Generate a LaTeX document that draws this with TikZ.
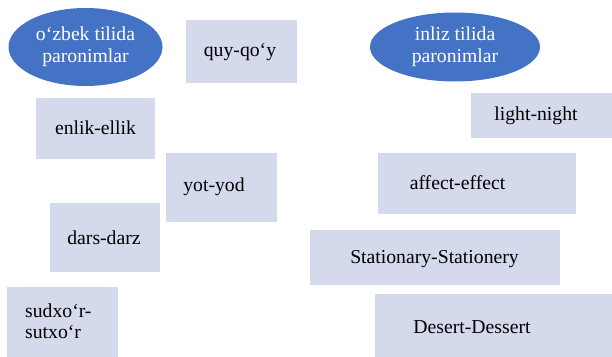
\documentclass[tikz,border=0pt]{standalone}
\usepackage{fontspec}
\setmainfont{Liberation Serif}
\usetikzlibrary{shapes.geometric}
\definecolor{ovalblue}{HTML}{4472C4}
\definecolor{boxfill}{HTML}{D4D9EC}
\begin{document}
\begin{tikzpicture}[x=1pt,y=-1pt,
  pbox/.style={fill=boxfill, draw=none, inner sep=0pt, anchor=north west},
  oval/.style={ellipse, fill=ovalblue, draw=none, text=white, align=center, inner sep=0pt,
    font=\fontsize{19.7}{22}\selectfont},
  word/.style={font=\fontsize{19.7}{21}\selectfont, inner sep=0pt, anchor=base}]
\useasboundingbox (0,0) rectangle (612,356);
\clip (0,0) rectangle (612,356);
% ovals
\node[oval, minimum width=154pt, minimum height=78pt] (e1) at (85.5,47) {o‘zbek tilida\\paronimlar};
\node[oval, minimum width=170pt, minimum height=69pt] (e2) at (455,47) {inliz tilida\\paronimlar};
% uzbek boxes
\node[pbox, minimum width=111pt, minimum height=63pt] (b1) at (186,20) {};
\node[word] (t1) at (240,56.5) {quy-qo‘y};
\node[pbox, minimum width=119pt, minimum height=61pt] (b2) at (36,98) {};
\node[word] (t2) at (95.5,134) {enlik-ellik};
\node[pbox, minimum width=111pt, minimum height=69pt] (b3) at (166,153) {};
\node[word] (t3) at (214,191.5) {yot-yod};
\node[pbox, minimum width=110pt, minimum height=69pt] (b4) at (50,203) {};
\node[word] (t4) at (104,244) {dars-darz};
\node[pbox, minimum width=111pt, minimum height=75pt] (b5) at (7,287) {};
\node[font=\fontsize{19.7}{21}\selectfont, inner sep=0pt, anchor=base west, align=left] (t5) at (25,338) {sudxo‘r-\\sutxo‘r};
% english boxes
\node[pbox, minimum width=150pt, minimum height=45pt] (c1) at (471,93) {};
\node[word] (s1) at (536,120) {light-night};
\node[pbox, minimum width=198pt, minimum height=61pt] (c2) at (378,153) {};
\node[word] (s2) at (457.5,189) {affect-effect};
\node[pbox, minimum width=250pt, minimum height=55pt] (c3) at (310,230) {};
\node[word] (s3) at (434.5,263) {Stationary-Stationery};
\node[pbox, minimum width=245pt, minimum height=70pt] (c4) at (375,294) {};
\node[word] (s4) at (472,333) {Desert-Dessert};
\end{tikzpicture}
\end{document}
